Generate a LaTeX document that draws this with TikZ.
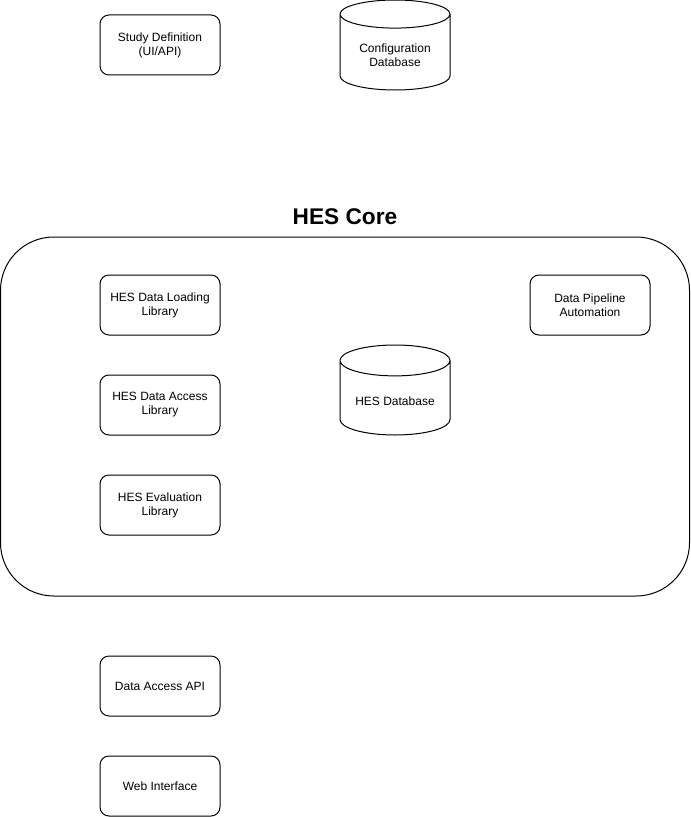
\documentclass[tikz,border=0pt]{standalone}
\usepackage{fontspec}
\setmainfont{Liberation Sans}
\usetikzlibrary{shapes.geometric}
\tikzstyle{component} = [rectangle, rounded corners=6.75pt, minimum width=90pt, minimum height=45pt, align=center, draw=black, line width=0.75pt, font=\fontsize{9}{10.5}\selectfont]
\tikzstyle{database} = [cylinder, shape border rotate=90, aspect=0.35, anchor=shape center, minimum width=82.5pt, minimum height=67.5pt, align=center, draw=black, line width=0.75pt, font=\fontsize{9}{10.5}\selectfont]
\tikzstyle{container} = [rectangle, rounded corners=40pt, minimum width=516.75pt, minimum height=269.25pt, draw=black, line width=0.75pt]
\tikzstyle{heading} = [font=\fontsize{17}{20}\selectfont\bfseries]

\begin{document}
\begin{tikzpicture}[x=0.75pt, y=-0.75pt, node distance=75pt]
\useasboundingbox (0,0) rectangle (691,817);
% configuration
\node (study)    [component] at (160,45) {Study Definition\\(UI/API)};
\node (configdb) [database] at (395,45)  {Configuration\\Database};
% core
\node (coretitle) [heading] at (345,217) {HES Core};
\node (core)  [container] at (345,416.5) {};
\node (load)  [component] at (160,305) {HES Data Loading\\Library};
\node (access)[component, below of=load] {HES Data Access\\Library};
\node (eval)  [component, below of=access] {HES Evaluation\\Library};
\node (pipeline) [component] at (590,305) {Data Pipeline\\Automation};
\node (hesdb) [database] at (395,390) {HES Database};
% access
\node (api)   [component] at (160,686) {Data Access API};
\node (web)   [component, below of=api] {Web Interface};
\end{tikzpicture}
\end{document}
